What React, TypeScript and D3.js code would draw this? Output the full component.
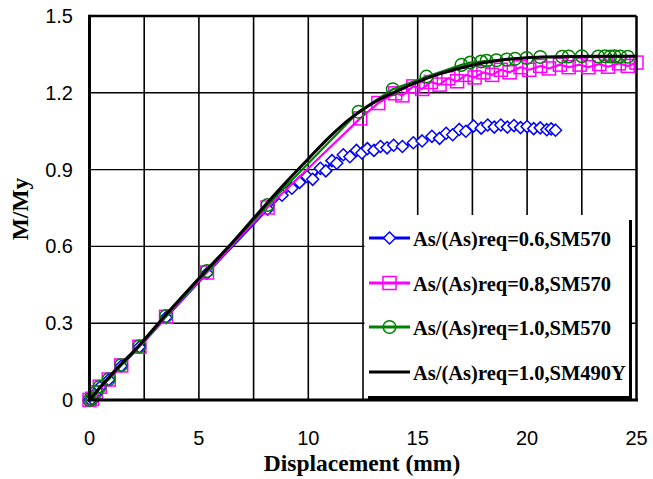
import React from "react";
import * as d3 from "d3";

type P = [number, number];

const xTicks = [0, 5, 10, 15, 20, 25];
const yTicks = [0, 0.3, 0.6, 0.9, 1.2, 1.5];
const yTickLabels = ["0", "0.3", "0.6", "0.9", "1.2", "1.5"];
const xGrid = [2.5, 5, 7.5, 10, 12.5, 15, 17.5, 20, 22.5];
const yGrid = [0.3, 0.6, 0.9, 1.2];

const seriesNames = [
  "As/(As)req=0.6,SM570",
  "As/(As)req=0.8,SM570",
  "As/(As)req=1.0,SM570",
  "As/(As)req=1.0,SM490Y",
];

const blue06: P[] = [
  [0, 0], [0.12, 0.005], [0.3, 0.028], [0.47, 0.05], [0.88, 0.079], [1.45, 0.133],
  [2.28, 0.207], [3.5, 0.322], [5.37, 0.495], [8.14, 0.745], [8.8, 0.8], [9.25, 0.827],
  [9.6, 0.85], [9.94, 0.873], [10.2, 0.862], [10.55, 0.905], [10.8, 0.895], [11.08, 0.935],
  [11.3, 0.925], [11.6, 0.958], [11.9, 0.95], [12.2, 0.975], [12.45, 0.965], [12.7, 0.982],
  [13.0, 0.975], [13.3, 0.99], [13.6, 0.985], [13.9, 0.995], [14.3, 0.99], [14.8, 1.005],
  [15.2, 1.012], [15.65, 1.03], [16.0, 1.022], [16.3, 1.042], [16.6, 1.036], [16.9, 1.057],
  [17.2, 1.05], [17.55, 1.07], [17.9, 1.062], [18.2, 1.074], [18.5, 1.066], [18.8, 1.074],
  [19.1, 1.066], [19.4, 1.072], [19.7, 1.064], [20.0, 1.068], [20.3, 1.06], [20.6, 1.063],
  [20.9, 1.056], [21.1, 1.059], [21.3, 1.054],
];

const magenta08: P[] = [
  [0, 0], [0.12, 0.005], [0.3, 0.03], [0.47, 0.052], [0.88, 0.08], [1.45, 0.135],
  [2.28, 0.208], [3.5, 0.325], [5.37, 0.498], [8.14, 0.752], [12.37, 1.1], [13.2, 1.16],
  [13.97, 1.198], [14.3, 1.19], [14.8, 1.225], [15.2, 1.215], [15.6, 1.242], [16.0, 1.232],
  [16.4, 1.257], [16.8, 1.245], [17.2, 1.27], [17.6, 1.26], [18.0, 1.28], [18.4, 1.27],
  [18.8, 1.29], [19.2, 1.28], [19.7, 1.3], [20.1, 1.29], [20.6, 1.305], [21.0, 1.295],
  [21.5, 1.31], [21.9, 1.3], [22.4, 1.31], [22.8, 1.3], [23.3, 1.312], [23.7, 1.302],
  [24.2, 1.315], [24.6, 1.305], [25.0, 1.318],
];

const green10: P[] = [
  [0, 0], [0.12, 0.005], [0.3, 0.03], [0.47, 0.052], [0.88, 0.081], [1.45, 0.137],
  [2.28, 0.21], [3.5, 0.328], [5.37, 0.504], [8.14, 0.762], [12.3, 1.126], [13.86, 1.214],
  [15.4, 1.263], [17.0, 1.309], [17.4, 1.318], [17.9, 1.322], [18.15, 1.325], [18.6, 1.327],
  [19.07, 1.33], [19.45, 1.333], [19.98, 1.336], [20.6, 1.34], [21.6, 1.341], [21.9, 1.342],
  [22.5, 1.343], [23.25, 1.342], [23.56, 1.343], [23.8, 1.342], [24.0, 1.343], [24.25, 1.342],
  [24.6, 1.341],
];

const black490: P[] = [
  [0, 0], [1, 0.1], [2.3, 0.216], [3.5, 0.334], [5.4, 0.512], [6.5, 0.612], [8, 0.758],
  [9, 0.852], [10, 0.942], [11, 1.03], [12, 1.105], [12.5, 1.135], [13, 1.162], [14, 1.205],
  [15, 1.243], [16, 1.274], [17, 1.298], [18, 1.317], [19, 1.33], [20, 1.337], [21, 1.34],
  [22, 1.342], [23, 1.343], [24, 1.343], [25, 1.343],
];

const BLUE = "#0000FF";
const MAGENTA = "#FF00FF";
const GREEN = "#008000";
const BLACK = "#000000";

const x = d3.scaleLinear().domain([0, 25]).range([89.5, 636.5]);
const y = d3.scaleLinear().domain([0, 1.5]).range([400, 16]);

const lineGen = d3.line<P>().x((d) => x(d[0])).y((d) => y(d[1]));
const smoothGen = d3
  .line<P>()
  .x((d) => x(d[0]))
  .y((d) => y(d[1]))
  .curve(d3.curveMonotoneX);

const diamondPath = (cx: number, cy: number, r: number) =>
  `M${cx},${cy - r}L${cx + r},${cy}L${cx},${cy + r}L${cx - r},${cy}Z`;

function Marker({ kind, cx, cy }: { kind: string; cx: number; cy: number }) {
  if (kind === "diamond")
    return <path d={diamondPath(cx, cy, 6)} fill="white" stroke={BLUE} strokeWidth={1.5} />;
  if (kind === "square")
    return (
      <rect x={cx - 6.5} y={cy - 6.5} width={13} height={13} fill="none" stroke={MAGENTA} strokeWidth={1.5} />
    );
  if (kind === "circle")
    return <circle cx={cx} cy={cy} r={6.3} fill="none" stroke={GREEN} strokeWidth={1.5} />;
  return null;
}

export default function App() {
  const series = [
    { data: blue06, color: BLUE, marker: "diamond", smooth: false, width: 2.2 },
    { data: magenta08, color: MAGENTA, marker: "square", smooth: false, width: 2.2 },
    { data: green10, color: GREEN, marker: "circle", smooth: false, width: 2.2 },
    { data: black490, color: BLACK, marker: "none", smooth: true, width: 3 },
  ];
  const legendY = [238, 283, 327, 372];
  return (
    <svg
      width={653}
      height={479}
      style={{ position: "absolute", left: 0, top: 0, background: "white" }}
    >
      <rect x={0} y={0} width={653} height={479} fill="white" />
      {/* grid */}
      {xGrid.map((g) => (
        <line key={"gx" + g} x1={x(g)} x2={x(g)} y1={y(1.5)} y2={y(0)} stroke="black" strokeWidth={1.6} />
      ))}
      {yGrid.map((g) => (
        <line key={"gy" + g} x1={x(0)} x2={x(25)} y1={y(g)} y2={y(g)} stroke="black" strokeWidth={1.4} />
      ))}
      {/* series */}
      {series.map((s, i) => (
        <g key={"s" + i}>
          <path
            d={(s.smooth ? smoothGen : lineGen)(s.data) || ""}
            fill="none"
            stroke={s.color}
            strokeWidth={s.width}
            strokeLinejoin="round"
          />
          {s.data.map((p, j) => (
            <Marker key={j} kind={s.marker} cx={x(p[0])} cy={y(p[1])} />
          ))}
        </g>
      ))}
      {/* legend */}
      <rect x={364.5} y={215} width={265} height={182} fill="white" />
      <rect x={629} y={220} width={3} height={179} fill="black" />
      <rect x={368} y={396} width={264} height={3} fill="black" />
      {series.map((s, i) => (
        <g key={"l" + i}>
          <line x1={369} x2={410} y1={legendY[i]} y2={legendY[i]} stroke={s.color} strokeWidth={3} />
          <Marker kind={s.marker} cx={389.5} cy={legendY[i]} />
          <text
            x={413}
            y={legendY[i] + 8}
            fontFamily="'Liberation Serif', 'Times New Roman', serif"
            fontWeight="bold"
            fontSize={20.5}
            fill="black"
          >
            {seriesNames[i]}
          </text>
        </g>
      ))}
      {/* frame */}
      <line x1={x(0)} x2={x(25)} y1={y(1.5)} y2={y(1.5)} stroke="black" strokeWidth={2.5} />
      <line x1={x(25)} x2={x(25)} y1={y(1.5)} y2={y(0)} stroke="black" strokeWidth={2.5} />
      <line x1={x(0)} x2={x(25) + 1.5} y1={y(0)} y2={y(0)} stroke="black" strokeWidth={3} />
      <line x1={x(0)} x2={x(0)} y1={y(1.5) - 1.25} y2={y(0) + 1.5} stroke="black" strokeWidth={3} />
      {/* tick labels */}
      {yTicks.map((t, i) => (
        <text
          key={"yt" + t}
          x={73}
          y={y(t) + 7}
          textAnchor="end"
          fontFamily="'Liberation Sans', Arial, sans-serif"
          fontSize={20}
          fill="black"
        >
          {yTickLabels[i]}
        </text>
      ))}
      {xTicks.map((t) => (
        <text
          key={"xt" + t}
          x={x(t)}
          y={445}
          textAnchor="middle"
          fontFamily="'Liberation Sans', Arial, sans-serif"
          fontSize={20}
          fill="black"
        >
          {t}
        </text>
      ))}
      {/* axis titles */}
      <text
        x={362}
        y={471}
        textAnchor="middle"
        fontFamily="'Liberation Serif', 'Times New Roman', serif"
        fontWeight="bold"
        fontSize={23.5}
        fill="black"
      >
        Displacement (mm)
      </text>
      <text
        transform="translate(28,209) rotate(-90)"
        textAnchor="middle"
        fontFamily="'Liberation Serif', 'Times New Roman', serif"
        fontWeight="bold"
        fontSize={23.5}
        fill="black"
      >
        M/My
      </text>
    </svg>
  );
}
